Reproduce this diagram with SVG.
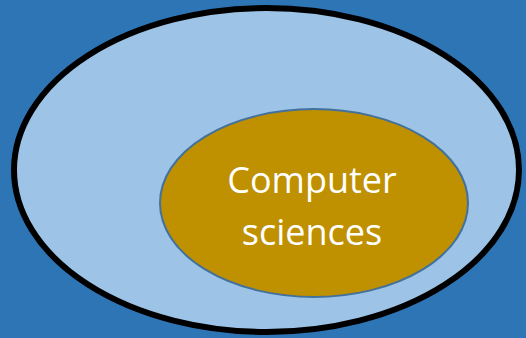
<svg xmlns="http://www.w3.org/2000/svg" width="526" height="338" viewBox="0 0 526 338">
<style>
.lbl{font-family:"Open Sans","Liberation Sans",sans-serif;font-size:36px;fill:#FFFFFF;text-anchor:middle}
</style>
<rect x="0" y="0" width="526" height="338" fill="#2E75B6"/>
<g id="outer">
<ellipse cx="266.5" cy="170" rx="252.5" ry="162" fill="#9DC3E6" stroke="#000000" stroke-width="6"/>
</g>
<g id="inner">
<ellipse cx="314" cy="203" rx="154" ry="94" fill="#BF9000" stroke="#41719C" stroke-width="2"/>
<text class="lbl" x="312" y="193">Computer</text>
<text class="lbl" x="312" y="245">sciences</text>
</g>
<g id="connectors"/>
</svg>
